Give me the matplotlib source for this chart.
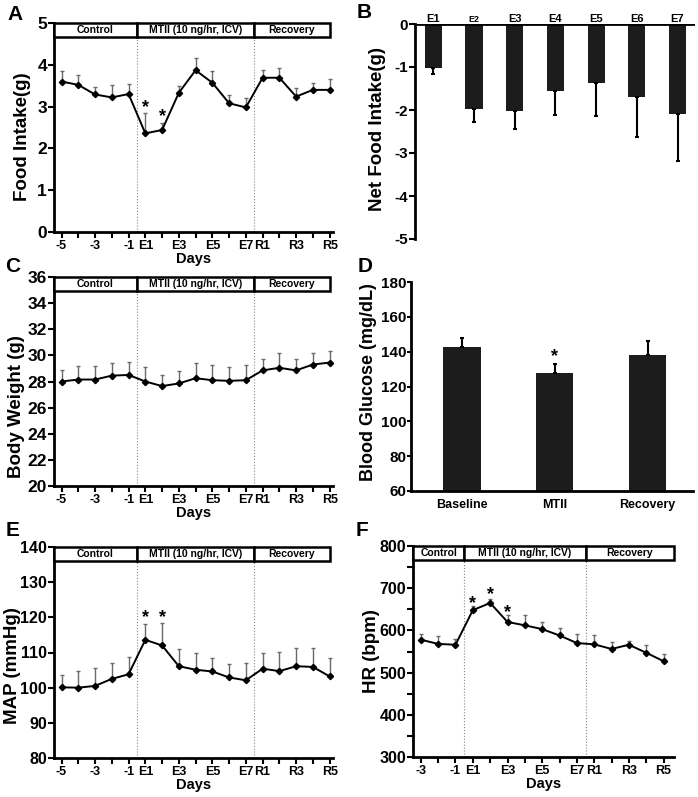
import numpy as np
import matplotlib
matplotlib.use('Agg')
import matplotlib.pyplot as plt
from matplotlib.patches import Rectangle

plt.rcParams['font.family'] = 'Liberation Sans'
plt.rcParams['font.weight'] = 'bold'
plt.rcParams['axes.labelweight'] = 'bold'

# data
days = ['-5', '-4', '-3', '-2', '-1', 'E1', 'E2', 'E3', 'E4', 'E5', 'E6', 'E7', 'R1', 'R2', 'R3', 'R4', 'R5']
day_labels = ['-5', '', '-3', '', '-1', 'E1', '', 'E3', '', 'E5', '', 'E7', 'R1', '', 'R3', '', 'R5']
food = [3.60, 3.52, 3.29, 3.22, 3.30, 2.36, 2.44, 3.33, 3.87, 3.57, 3.08, 2.98, 3.69, 3.69, 3.24, 3.40, 3.40]
food_err = [0.25, 0.24, 0.19, 0.29, 0.25, 0.48, 0.16, 0.17, 0.30, 0.27, 0.19, 0.23, 0.19, 0.24, 0.21, 0.17, 0.25]
weight = [28.0, 28.15, 28.15, 28.45, 28.5, 28.0, 27.65, 27.85, 28.25, 28.1, 28.05, 28.1, 28.85, 29.05, 28.85, 29.3, 29.45]
weight_err = [0.9, 1.0, 1.0, 1.0, 1.0, 1.1, 0.85, 0.95, 1.15, 1.15, 1.05, 1.15, 0.9, 1.15, 0.9, 0.85, 0.85]
mapp = [100.1, 100.0, 100.5, 102.5, 103.8, 113.6, 112.0, 106.1, 105.1, 104.6, 102.9, 102.1, 105.4, 104.7, 106.1, 105.9, 103.2]
mapp_err = [3.6, 4.6, 5.0, 4.6, 4.8, 4.4, 6.4, 4.8, 4.8, 3.8, 3.8, 4.9, 4.6, 5.4, 5.3, 5.3, 5.1]

hr_days = ['-3', '-2', '-1', 'E1', 'E2', 'E3', 'E4', 'E5', 'E6', 'E7', 'R1', 'R2', 'R3', 'R4', 'R5']
hr_labels = ['-3', '', '-1', 'E1', '', 'E3', '', 'E5', '', 'E7', 'R1', '', 'R3', '', 'R5']
hr = [578, 568, 566, 648, 665, 620, 612, 603, 588, 570, 567, 556, 566, 547, 527]
hr_err = [14, 19, 14, 10, 10, 16, 24, 17, 18, 22, 21, 17, 9, 19, 18]

net_days = ['E1', 'E2', 'E3', 'E4', 'E5', 'E6', 'E7']
net_food = [-1.02, -1.97, -2.03, -1.55, -1.38, -1.69, -2.09]
net_err = [0.14, 0.32, 0.42, 0.57, 0.75, 0.93, 1.09]

glu_groups = ['Baseline', 'MTII', 'Recovery']
glucose = [142.9, 127.8, 138.0]
glucose_err = [5.2, 5.4, 8.0]

phases = ['Control', 'MTII (10 ng/hr, ICV)', 'Recovery']

W, H = 698, 797
fig = plt.figure(figsize=(W / 100, H / 100), dpi=100)


def add_ax(left, right, top, bottom):
    return fig.add_axes([left / W, (H - bottom) / H, (right - left) / W, (bottom - top) / H])


def style(ax, ysize=12.5):
    for s in ['top', 'right']:
        ax.spines[s].set_visible(False)
    for s in ['left', 'bottom']:
        ax.spines[s].set_linewidth(2)
    ax.tick_params(direction='out', length=4, width=1.5)
    ax.tick_params(axis='y', labelsize=ysize, pad=1)


def time_panel(ax, labels, ticks, y, err, edges, xmax, ylim, yticks, ylabel, lab_xy, stars, star_y, ysize=12.5):
    x = np.arange(len(labels))
    ax.errorbar(x, y, yerr=[np.zeros(len(err)), err], fmt='none', ecolor='#6a6a6a',
                elinewidth=1, capsize=1.5, capthick=1, zorder=2)
    ax.plot(x, y, color='black', lw=1.4, marker='D', ms=3.2, zorder=3)
    ax.set_xlim(-0.45, xmax)
    ax.set_ylim(ylim)
    ax.set_yticks(yticks)
    ax.set_xticks(x)
    ax.set_xticklabels(ticks, fontsize=9)
    ax.tick_params(axis='x', pad=2)
    style(ax, ysize)
    ax.set_ylabel(ylabel, fontsize=13.5)
    ax.yaxis.set_label_coords(*lab_xy)
    ax.set_xlabel('Days', fontsize=10.5, labelpad=0)
    # phase banner
    tr = ax.get_xaxis_transform()
    bounds = [-0.45] + edges
    for i, name in enumerate(phases):
        ax.add_patch(Rectangle((bounds[i], 0.932), bounds[i + 1] - bounds[i], 0.068, transform=tr,
                               facecolor='white', edgecolor='black', lw=1.8, clip_on=False, zorder=5))
        ax.text((bounds[i] + bounds[i + 1]) / 2, 0.966, name, transform=tr, ha='center', va='center',
                fontsize=7.5, zorder=6)
    for e in edges[:2]:
        ax.plot([e, e], [0, 0.932], transform=tr, color='#888888', lw=0.8, ls=':', zorder=1)
    for i, sy in zip(stars, star_y):
        ax.text(i, sy, '*', ha='center', va='center', fontsize=13)


# A
axA = add_ax(54, 333, 23, 232)
time_panel(axA, days, day_labels, food, food_err, [4.5, 11.5, 16.0], 16.2, (0, 5), range(6),
           'Food Intake(g)', (-0.082, 0.455), [5, 6], [2.98, 2.75])

# C
axC = add_ax(54, 333, 277, 486)
time_panel(axC, days, day_labels, weight, weight_err, [4.5, 11.5, 16.0], 16.2, (20, 36), range(20, 37, 2),
           'Body Weight (g)', (-0.104, 0.38), [], [])

# E
axE = add_ax(54, 333, 547, 758)
time_panel(axE, days, day_labels, mapp, mapp_err, [4.5, 11.5, 16.0], 16.2, (80, 140), range(80, 141, 10),
           'MAP (mmHg)', (-0.12, 0.436), [5, 6], [120, 120], ysize=11.5)

# F
axF = add_ax(413, 674, 546, 757)
time_panel(axF, hr_days, hr_labels, hr, hr_err, [2.5, 9.5, 14.6], 14.6, (300, 800), range(300, 801, 100),
           'HR (bpm)', (-0.125, 0.5), [3, 4, 5], [664, 684, 643], ysize=11.5)
axF.set_yticks(range(350, 800, 100), minor=True)
axF.tick_params(axis='y', which='minor', direction='out', length=4, width=1.5)

# B
axB = add_ax(415, 695, 24, 239)
xb = np.arange(len(net_days))
axB.bar(xb, net_food, width=0.42, color='#1c1c1c', zorder=2)
axB.errorbar(xb, net_food, yerr=[net_err, np.zeros(len(net_err))], fmt='none', ecolor='black',
             elinewidth=1.5, capsize=1.5, capthick=1.5, zorder=3)
axB.set_xlim(-0.45, 6.43)
axB.set_ylim(-5, 0)
axB.set_yticks(range(-5, 1))
axB.set_yticklabels([str(v) for v in range(-5, 1)])
axB.set_xticks([])
style(axB, ysize=11)
axB.spines['bottom'].set_visible(False)
axB.axhline(0, color='black', lw=2, zorder=4)
for i, lab in enumerate(net_days):
    axB.text(xb[i], 0.0, lab, ha='center', va='bottom', fontsize=6.5 if lab == 'E2' else 8)
axB.set_ylabel('Net Food Intake(g)', fontsize=13.5)
axB.yaxis.set_label_coords(-0.102, 0.51)

# D
axD = add_ax(411, 693, 282, 491)
xd = np.arange(len(glu_groups))
axD.bar(xd, np.array(glucose) - 60, bottom=60, width=0.4, color='#1c1c1c', zorder=2)
axD.errorbar(xd, glucose, yerr=[np.zeros(3), glucose_err], fmt='none', ecolor='black',
             elinewidth=1.5, capsize=1.5, capthick=1.5, zorder=3)
axD.set_xlim(-0.55, 2.49)
axD.set_ylim(60, 180)
axD.set_yticks(range(60, 181, 20))
axD.set_xticks(xd)
axD.set_xticklabels(glu_groups, fontsize=9)
style(axD, ysize=11)
axD.tick_params(axis='y', length=3, pad=0.5)
axD.tick_params(axis='x', length=0, pad=6)
axD.text(1, 137, '*', ha='center', va='center', fontsize=13)
axD.set_ylabel('Blood Glucose (mg/dL)', fontsize=13)
axD.yaxis.set_label_coords(-0.12, 0.52)

# panel letters
for letter, (px, py) in zip('ABCDEF', [(15, 14), (364, 13), (13, 266), (365, 266), (13, 531), (362, 531)]):
    fig.text(px / W, 1 - py / H, letter, fontsize=15, ha='center', va='center')

plt.savefig('out.png', dpi=100)
